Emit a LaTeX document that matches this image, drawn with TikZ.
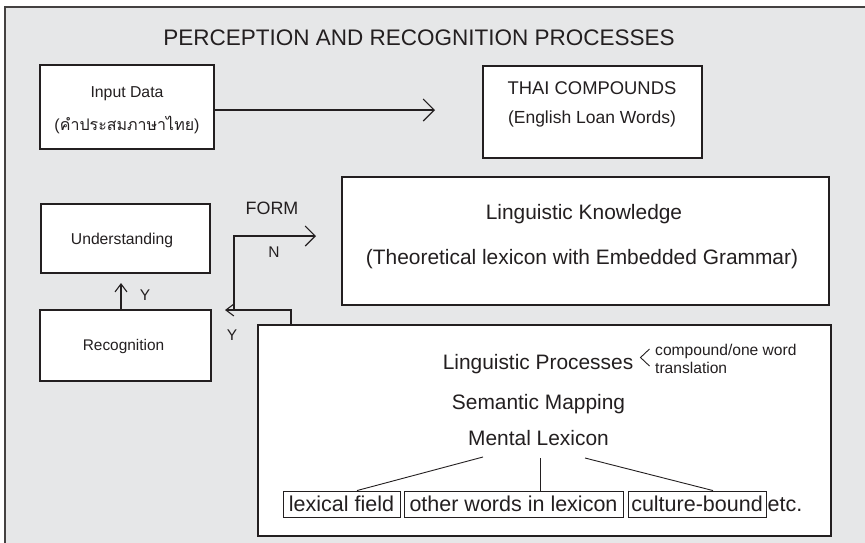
\documentclass[tikz,border=0pt]{standalone}
\usepackage{fontspec}
\setmainfont{Liberation Sans}
\newfontfamily\thaifont[Script=Thai]{Loma}
\usetikzlibrary{arrows.meta,calc}
\definecolor{bg}{RGB}{230,231,232}
\definecolor{ink}{RGB}{35,31,32}
\newcommand{\fsz}[1]{\fontsize{#1}{#1}\selectfont}
\begin{document}
\begin{tikzpicture}[x=1pt,y=-1pt,
  box/.style={draw=ink, fill=white, line width=1.2pt, inner sep=0pt},
  smallbox/.style={draw=ink, fill=white, line width=0.9pt, inner sep=0pt,
     minimum height=26pt, text height=15.4pt, text depth=0pt, font=\fsz{21.5}, text=ink},
  txt/.style={inner sep=0pt, anchor=base, text=ink},
  conn/.style={draw=ink, line width=1.1pt},
  bigarrow/.style={conn, -{Straight Barb[length=11pt,width=22pt,line width=1.1pt]}},
  midarrow/.style={conn, -{Straight Barb[length=10pt,width=20pt,line width=1.1pt]}},
  smallarrow/.style={conn, -{Straight Barb[length=8pt,width=12pt,line width=1.1pt]}}
]
\useasboundingbox (0,0) rectangle (865,542);
\clip (0,0) rectangle (865,542);
\fill[bg] (5,7) rectangle (870,548);
\draw[draw=ink!85, line width=1.4pt] (5,548) -- (5,7) -- (870,7);

% title
\node[txt, font=\fsz{22.5}] (title) at (419,45) {PERCEPTION AND RECOGNITION PROCESSES};

% boxes
\node[box, minimum width=174pt, minimum height=84pt] (input) at (127,107) {};
\node[box, minimum width=219pt, minimum height=92pt] (thai) at (592.5,112) {};
\node[box, minimum width=487pt, minimum height=128pt] (lk) at (585.5,241) {};
\node[box, minimum width=169pt, minimum height=69pt] (und) at (125.5,238.5) {};
\node[box, minimum width=171pt, minimum height=71pt] (rec) at (125.5,345.5) {};
\node[box, minimum width=573pt, minimum height=211pt] (big) at (544.5,430.5) {};

% texts in boxes
\node[txt, font=\fsz{15.8}] (inputt) at (127,97.7) {Input Data};
\node[txt, font=\fsz{16}] (inputth) at (127,130.5) {(\thaifont คำประสมภาษาไทย\rmfamily)};
\node[txt, font=\fsz{18.4}] (thait) at (592,94.6) {THAI COMPOUNDS};
\node[txt, font=\fsz{17.5}] (thaie) at (592,123.3) {(English Loan Words)};
\node[txt, font=\fsz{15.7}] (undt) at (122,244.6) {Understanding};
\node[txt, font=\fsz{15.4}] (rect) at (123.5,350.5) {Recognition};
\node[txt, font=\fsz{20.9}] (lkt) at (584,219) {Linguistic Knowledge};
\node[txt, font=\fsz{20.9}] (lkt2) at (582,264.5) {(Theoretical lexicon with Embedded Grammar)};

% connectors
\coordinate (a1) at (435,110);
\draw[bigarrow] (input.east |- a1) -- (a1);

\coordinate (upend) at (121,283);
\draw[smallarrow] (rec.north -| upend) -- (upend);
\node[txt, font=\fsz{15.5}] (y1) at (145,300.5) {Y};

\coordinate (ystart) at (291,325);
\coordinate (ycorner) at (291,310);
\coordinate (yend) at (225,310);
\coordinate (junc) at (234,310);
\coordinate (ncorner) at (234,236);
\coordinate (nend) at (316,236);
\draw[smallarrow] (big.north -| ystart) -- (ycorner) -- (yend);
\draw[midarrow] (junc) -- (ncorner) -- (nend);
\node[txt, font=\fsz{17.9}] (form) at (272,214.4) {FORM};
\node[txt, font=\fsz{15.5}] (nlab) at (274,257.5) {N};
\node[txt, font=\fsz{15.5}] (y2) at (232,340.5) {Y};

% inside big box
\node[txt, font=\fsz{20.9}] (lp) at (538,369.5) {Linguistic Processes};
\coordinate (brtop) at (649.5,349);
\coordinate (brtip) at (640.5,357.5);
\coordinate (brbot) at (649.5,366);
\draw[conn, line width=0.9pt] (brtop) -- (brtip) -- (brbot);
\node[txt, anchor=base west, font=\fsz{15.6}] (cw) at (655,355.5) {compound/one word};
\node[txt, anchor=base west, font=\fsz{15.6}] (tr) at (655,373.5) {translation};
\node[txt, font=\fsz{20.9}] (sm) at (538.5,409.5) {Semantic Mapping};
\node[txt, font=\fsz{20.9}] (ml) at (538.5,445.5) {Mental Lexicon};

\node[smallbox, minimum width=117pt] (lf) at (341.5,504) {lexical field};
\node[smallbox, minimum width=219pt] (ow) at (513.5,504) {other words in lexicon};
\node[smallbox, minimum width=138pt] (cb) at (697,504) {culture-bound};
\node[txt, anchor=base west, font=\fsz{21.5}] (etc) at (767.5,511.7) {etc.};

\draw[conn, line width=0.9pt] ($(ml.base)+(-55.5,11.5)$) -- ($(lf.north)+(15.5,0)$);
\draw[conn, line width=0.9pt] ($(ml.base)+(1.5,12.5)$) -- ($(ow.north)+(26.5,0)$);
\draw[conn, line width=0.9pt] ($(ml.base)+(46.5,12.5)$) -- ($(cb.north)+(16,0)$);
\end{tikzpicture}
\end{document}
